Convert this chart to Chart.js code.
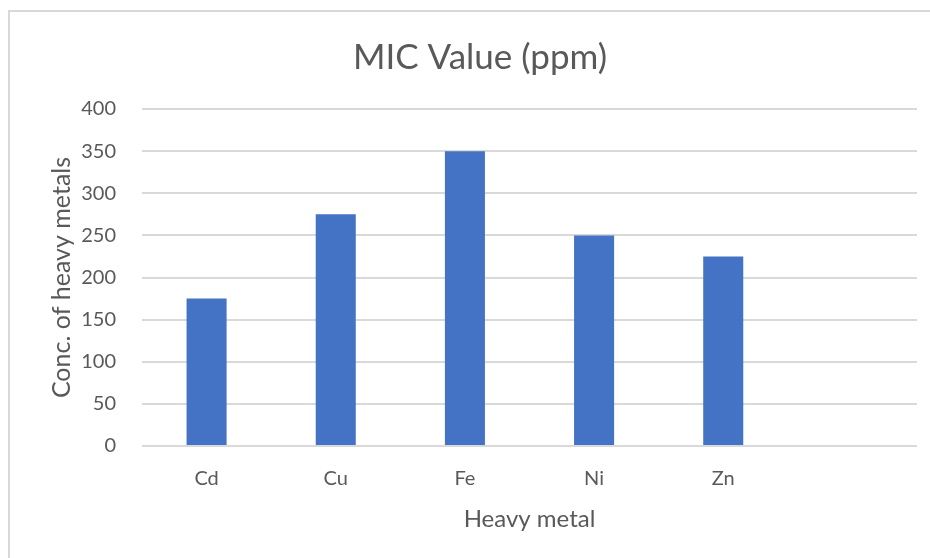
<!DOCTYPE html>
<html>
<head>
<meta charset="utf-8">
<script src="https://cdn.jsdelivr.net/npm/chart.js@4/dist/chart.umd.min.js"></script>
<style>
html,body{margin:0;padding:0;background:#fff;}
#wrap{position:relative;width:930px;height:558px;}
</style>
</head>
<body>
<div id="wrap"><canvas id="c" width="930" height="558"></canvas></div>
<script>
const categories = ['Cd', 'Cu', 'Fe', 'Ni', 'Zn', ''];
const micValues = [175, 275, 350, 250, 225, null];
const yTicks = [0, 50, 100, 150, 200, 250, 300, 350, 400];
const chartTitle = 'MIC Value (ppm)';

const FONT = "Lato, 'Liberation Sans', sans-serif";
const TXT = '#595959';

const decorPlugin = {
  id: 'decor',
  beforeDraw(chart) {
    const ctx = chart.ctx;
    ctx.save();
    ctx.fillStyle = '#fff';
    ctx.fillRect(0, 0, chart.width, chart.height);
    ctx.strokeStyle = '#d9d9d9';
    ctx.lineWidth = 2;
    ctx.strokeRect(9, 11, 940, 570);
    ctx.fillStyle = TXT;
    ctx.font = "35px " + FONT;
    ctx.textAlign = 'center';
    ctx.textBaseline = 'middle';
    ctx.fillText(chartTitle, 480, 58);
    ctx.restore();
  }
};

new Chart(document.getElementById('c'), {
  type: 'bar',
  data: {
    labels: categories,
    datasets: [{
      label: chartTitle,
      data: micValues,
      backgroundColor: '#4472C4',
      borderWidth: 0,
      barPercentage: 0.31,
      categoryPercentage: 1
    }]
  },
  options: {
    responsive: false,
    animation: false,
    layout: { padding: { left: 0, right: 13, top: 109, bottom: 24 } },
    plugins: {
      legend: { display: false },
      tooltip: { enabled: false },
      title: { display: false }
    },
    scales: {
      x: {
        afterFit(scale) { scale.height = 88; },
        grid: { display: false, drawTicks: false },
        border: { display: false },
        ticks: { color: TXT, font: { family: FONT, size: 20 }, padding: 21 },
        title: {
          display: true,
          text: 'Heavy metal',
          color: TXT,
          font: { family: FONT, size: 24 },
          padding: { top: 0, bottom: 0 }
        }
      },
      y: {
        min: 0,
        max: 400,
        afterBuildTicks(scale) { scale.ticks = yTicks.map(v => ({ value: v })); },
        afterFit(scale) { scale.width = 142; },
        grid: { color: '#d9d9d9', lineWidth: 2, drawTicks: false },
        border: { display: false },
        ticks: { color: TXT, font: { family: FONT, size: 20 }, padding: 26 },
        title: {
          display: true,
          text: 'Conc. of heavy metals',
          color: TXT,
          font: { family: FONT, size: 25 },
          padding: { top: 47, bottom: 0 }
        }
      }
    }
  },
  plugins: [decorPlugin]
});
</script>
</body>
</html>
